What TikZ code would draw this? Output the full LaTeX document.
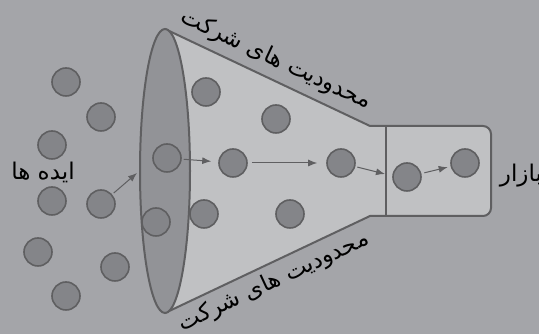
\documentclass[tikz,border=0pt]{standalone}
\usepackage{fontspec}
\TeXXeTstate=1
\newfontfamily\arabicfont[Script=Arabic]{DejaVu Sans}
\usetikzlibrary{arrows.meta}
\definecolor{bgc}{RGB}{164,165,169}
\definecolor{func}{RGB}{192,193,195}
\definecolor{ellc}{RGB}{146,147,151}
\definecolor{dotc}{RGB}{132,133,137}
\definecolor{linec}{RGB}{95,95,97}
\tikzset{
  dot/.style={circle,draw=linec,fill=dotc,line width=1.6pt,minimum size=28pt,inner sep=0pt},
  flow/.style={draw=linec,line width=1pt,-{Latex[length=9pt,width=7pt]},shorten <=3pt,shorten >=5pt},
  lbl/.style={font=\arabicfont\fontsize{23}{27}\selectfont,text=black,inner sep=0pt}
}
\begin{document}
\begin{tikzpicture}[x=1pt,y=1pt]
\fill[bgc] (0,0) rectangle (539,334);
\useasboundingbox (0,0) rectangle (539,334);
% funnel body
\fill[func] (165,305) -- (370,208) -- (483,208) arc[start angle=90,end angle=0,radius=8] -- (491,126) arc[start angle=0,end angle=-90,radius=8] -- (370,118) -- (165,21) -- cycle;
\draw[linec,line width=2pt,line join=round] (165,305) -- (370,208) -- (483,208) arc[start angle=90,end angle=0,radius=8] -- (491,126) arc[start angle=0,end angle=-90,radius=8] -- (370,118) -- (165,21);
\draw[linec,line width=2pt] (386,208) -- (386,118);
% mouth
\draw[linec,fill=ellc,line width=2pt] (165,163) ellipse[x radius=25,y radius=142];
% outside dots
\node[dot] (o1) at (66,252) {};
\node[dot] (o2) at (101,217) {};
\node[dot] (o3) at (52,189) {};
\node[dot] (o4) at (52,133) {};
\node[dot] (o5) at (101,130) {};
\node[dot] (o6) at (38,82) {};
\node[dot] (o7) at (115,67) {};
\node[dot] (o8) at (66,38) {};
% mouth dots
\node[dot] (m1) at (167,176) {};
\node[dot] (m2) at (156,112) {};
% funnel dots
\node[dot] (f1) at (206,242) {};
\node[dot] (f2) at (276,215) {};
\node[dot] (f3) at (233,171) {};
\node[dot] (f4) at (341,171) {};
\node[dot] (f5) at (204,120) {};
\node[dot] (f6) at (290,120) {};
% market dots
\node[dot] (b1) at (407,157) {};
\node[dot] (b2) at (465,171) {};
% arrows
\coordinate (a1) at (137,161);
\coordinate (a4) at (385,160);
\draw[flow,shorten >=0pt,shorten <=2pt] (o5) -- (a1);
\draw[flow,shorten >=7pt,shorten <=2pt] (m1) -- (f3);
\draw[flow,shorten >=9pt,shorten <=4pt] (f3) -- (f4);
\draw[flow,shorten >=0pt,shorten <=2pt] (f4) -- (a4);
\draw[flow,shorten >=3pt,shorten <=3pt] (b1) -- (b2);
% labels
\node[lbl] (ideas) at (43,162) {\beginR ایده ها\endR};
\node[lbl] (market) at (521,158) {\beginR بازار\endR};
\node[lbl,rotate=-25] (top) at (276,274) {\beginR محدودیت های شرکت\endR};
\node[lbl,rotate=25] (bot) at (274,52) {\beginR محدودیت های شرکت\endR};
\end{tikzpicture}
\end{document}
